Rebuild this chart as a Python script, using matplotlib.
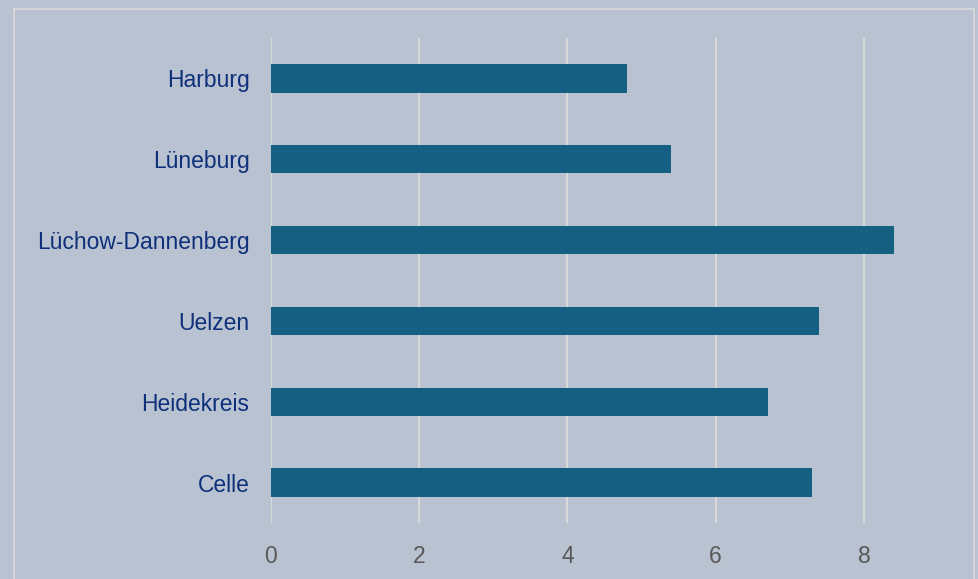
import matplotlib.pyplot as plt
from matplotlib.patches import Rectangle

# ----------------------------
# Data
# ----------------------------
regions = ["Celle", "Heidekreis", "Uelzen", "Lüchow-Dannenberg", "Lüneburg", "Harburg"]
values = [7.3, 6.7, 7.4, 8.4, 5.4, 4.8]
x_ticks = [0, 2, 4, 6, 8]

bg = "#b8c2d0"
bar_color = "#156082"
label_color = "#0e2f7a"
tick_color = "#595959"
grid_color = "#d9d9d9"

plt.rcParams['font.family'] = ['Liberation Sans', 'DejaVu Sans']

fig = plt.figure(figsize=(9.79, 5.79), dpi=100, facecolor=bg)
W, H = 979, 579
ax = fig.add_axes([271 / W, 1 - 523 / H, (938 - 271) / W, (523 - 38) / H])
ax.set_facecolor(bg)

ax.barh(range(len(regions)), values, height=0.35, color=bar_color, zorder=3)

ax.set_xlim(0, 9)
ax.set_ylim(-0.5, len(regions) - 0.5)
ax.set_xticks(x_ticks)
ax.set_xticklabels([str(t) for t in x_ticks])
ax.set_yticks(range(len(regions)))
ax.set_yticklabels(regions)

ax.grid(axis="x", color=grid_color, linewidth=1.5, zorder=0)
ax.tick_params(axis="x", length=0, pad=15.5, labelsize=16.5, labelcolor=tick_color)
ax.tick_params(axis="y", length=0, pad=15.5, labelsize=16.5, labelcolor=label_color)
for s in ax.spines.values():
    s.set_visible(False)

# outer chart frame
fig.add_artist(Rectangle((14 / W, -0.05), (974 - 14) / W, 1 - 9 / H + 0.05,
                         transform=fig.transFigure, fill=False,
                         edgecolor=grid_color, linewidth=1.2))

fig.savefig("out.png", dpi=100, facecolor=bg)
